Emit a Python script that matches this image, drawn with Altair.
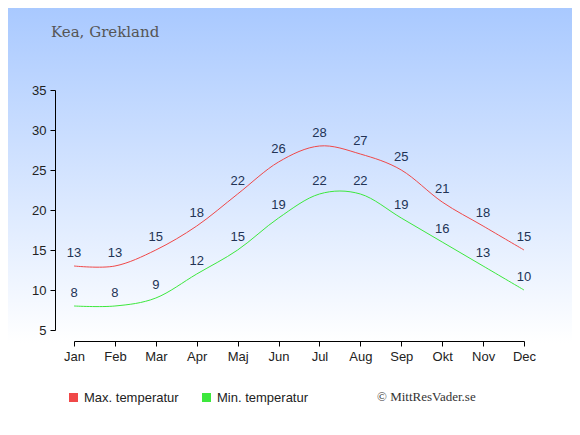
import altair as alt
import pandas as pd

months = ["Jan", "Feb", "Mar", "Apr", "Maj", "Jun", "Jul", "Aug", "Sep", "Okt", "Nov", "Dec"]
max_temps = [13, 13, 15, 18, 22, 26, 28, 27, 25, 21, 18, 15]
min_temps = [8, 8, 9, 12, 15, 19, 22, 22, 19, 16, 13, 10]
series_names = ["Max. temperatur", "Min. temperatur"]
series_colors = ["#f04848", "#3de83d"]
title_text = "Kea, Grekland"
credit_text = "© MittResVader.se"

rows = []
for i, m in enumerate(months):
    rows.append({"idx": i, "month": m, "temp": max_temps[i], "series": series_names[0]})
    rows.append({"idx": i, "month": m, "temp": min_temps[i], "series": series_names[1]})
df = pd.DataFrame(rows)

W, H = 450, 240
PL, PT, PR, PB = 66, 82, 48, 97

month_js = "[" + ",".join(f"'{m}'" for m in months) + "]"

x_enc = alt.X(
    "idx:Q",
    scale=alt.Scale(domain=[0, 11], nice=False, zero=False),
    axis=alt.Axis(
        values=list(range(12)), labelExpr=f"{month_js}[datum.value]", title=None,
        grid=False, offset=11, tickSize=5, labelFontSize=13, labelColor="#222",
        domainColor="#000", tickColor="#000", labelPadding=4, labelFont="Liberation Sans",
        zindex=1, labelFlush=False, labelOverlap=False,
    ),
)
y_enc = alt.Y(
    "temp:Q",
    scale=alt.Scale(domain=[5, 35], nice=False, zero=False),
    axis=alt.Axis(
        values=[5, 10, 15, 20, 25, 30, 35], title=None, grid=False, offset=19,
        tickSize=5, labelFontSize=13, labelColor="#222", domainColor="#000",
        tickColor="#000", labelPadding=4, labelFont="Liberation Sans", zindex=1,
        labelFlush=False, labelOverlap=False,
    ),
)

bg = alt.Chart(alt.Data(values=[{}])).mark_rect(
    fill=alt.Gradient(
        gradient="linear",
        stops=[alt.GradientStop(color="#a9c9ff", offset=0),
               alt.GradientStop(color="#ffffff", offset=0.8),
               alt.GradientStop(color="#ffffff", offset=1)],
        x1=0, x2=0, y1=0, y2=1,
    ),
    clip=False,
).encode(
    x=alt.value(-PL), x2=alt.value(W + PR), y=alt.value(-PT), y2=alt.value(H + PB)
)

lines = alt.Chart(df).mark_line(interpolate="cardinal", strokeWidth=1).encode(
    x=x_enc, y=y_enc,
    color=alt.Color(
        "series:N",
        scale=alt.Scale(domain=series_names, range=series_colors),
        legend=alt.Legend(
            title=None, orient="none", legendX=-7, legendY=301, direction="horizontal",
            symbolType="square", symbolSize=9, symbolStrokeWidth=6, labelFontSize=13,
            labelColor="#222", labelFont="Liberation Sans", columnPadding=14,
            symbolOpacity=1, labelOffset=4, zindex=1,
        ),
    ),
)

labels = alt.Chart(df).mark_text(
    dy=-13, fontSize=13, color="#223355", font="Liberation Sans"
).encode(x=x_enc, y=y_enc, text="temp:Q")

title = alt.Chart(alt.Data(values=[{}])).mark_text(
    align="left", baseline="middle", fontSize=15, color="#555", font="DejaVu Serif"
).encode(x=alt.value(-23), y=alt.value(-58), text=alt.value(title_text))

credit = alt.Chart(alt.Data(values=[{}])).mark_text(
    align="left", baseline="middle", fontSize=13, color="#333", font="Liberation Serif"
).encode(x=alt.value(303), y=alt.value(307), text=alt.value(credit_text))

chart = alt.layer(bg, lines, labels, title, credit).properties(
    width=W, height=H,
    autosize=alt.AutoSizeParams(type="none"),
    padding={"left": PL, "top": PT, "right": PR, "bottom": PB},
).configure_view(stroke=None).configure(background="white")

chart.save("out.html", embed_options={"renderer": "svg", "actions": False})
